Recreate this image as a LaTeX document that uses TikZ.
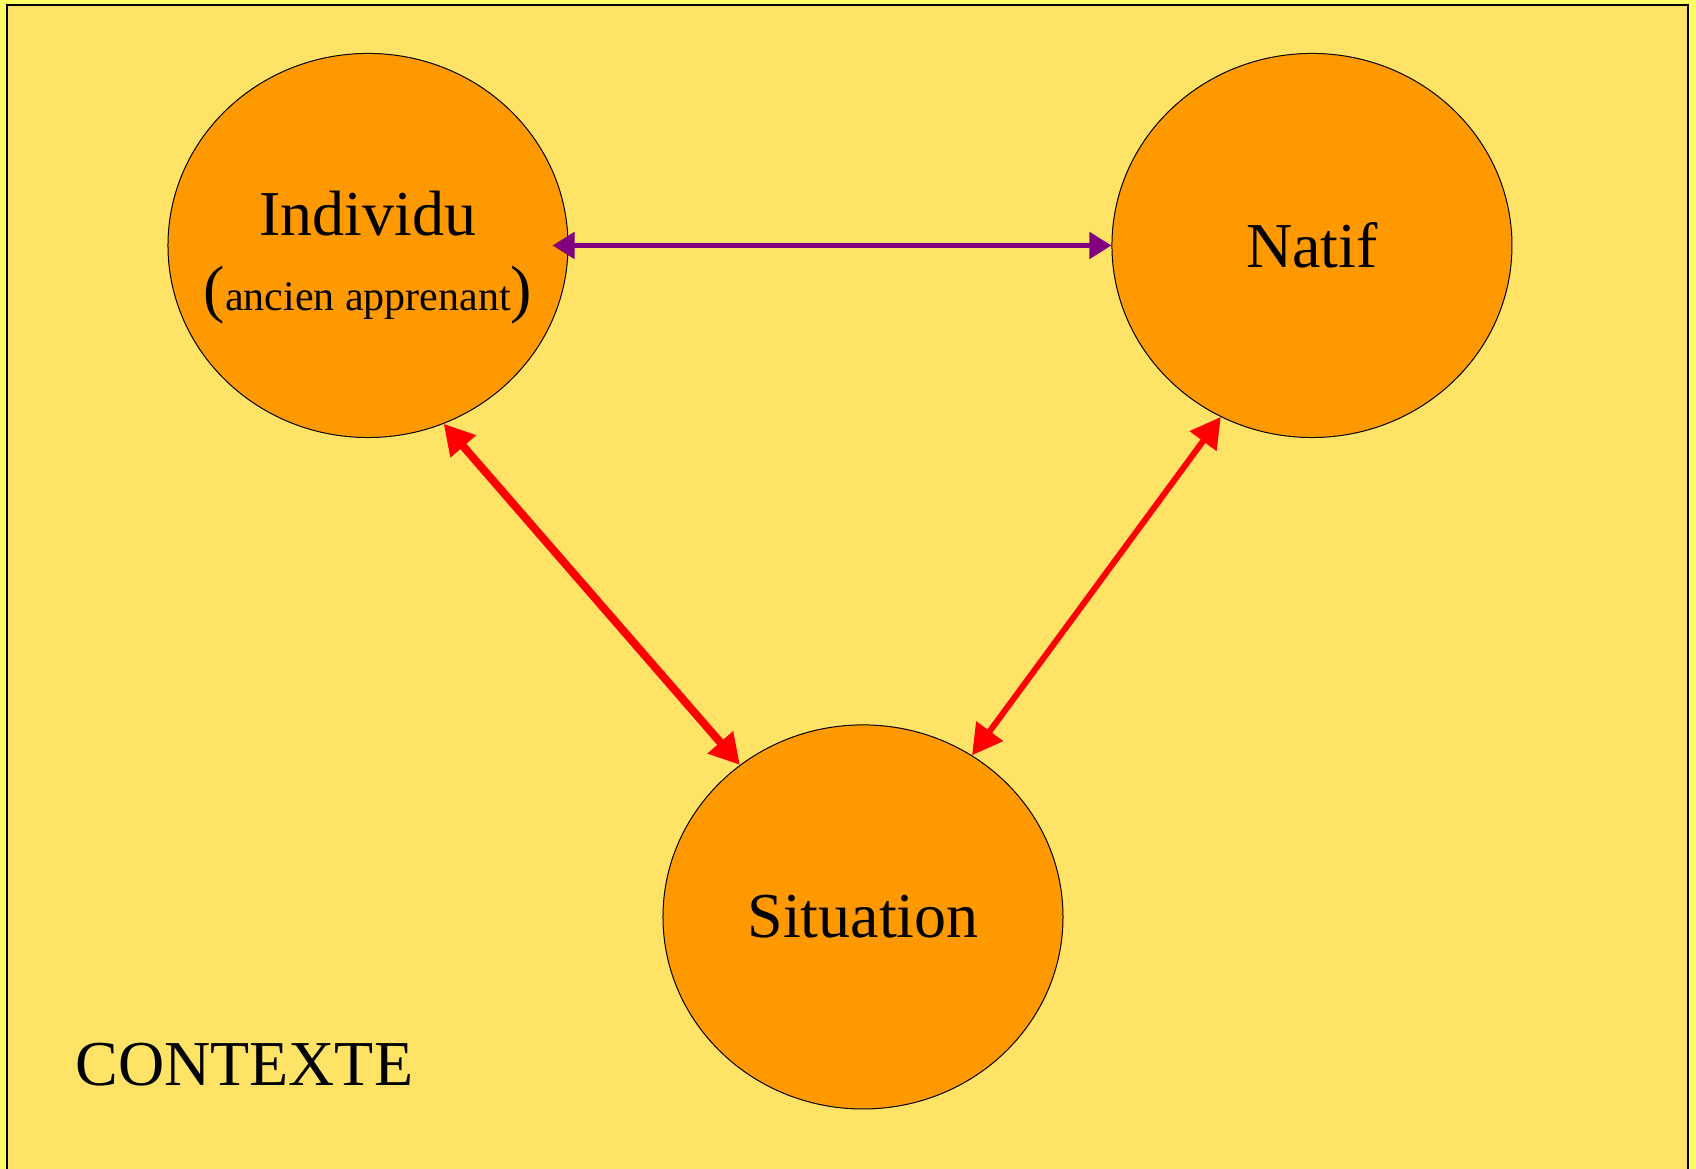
\documentclass[tikz,border=0pt]{standalone}
\usepackage{fontspec}
\setmainfont{Liberation Serif}
\usepackage{xcolor}
\usetikzlibrary{arrows.meta, shapes.geometric}

\definecolor{fond}{HTML}{FFFF66}
\definecolor{contexte}{HTML}{FFE366}
\definecolor{pole}{HTML}{FF9900}
\definecolor{lien}{HTML}{800080}

\begin{document}
\begin{tikzpicture}[
    polenode/.style={draw, ellipse, fill=pole, line width=0.5pt, minimum width=7.03cm, minimum height=6.75cm, align=center, font=\fontsize{32}{37.5}\selectfont},
    poletext/.style={align=center, inner sep=0pt, font=\fontsize{32}{37.5}\selectfont},
    lienrouge/.style={{Triangle[length=15pt,width=16pt]}-{Triangle[length=15pt,width=16pt]}, draw=red},
    lienviolet/.style={{Triangle[length=11pt,width=13pt]}-{Triangle[length=11pt,width=13pt]}, draw=lien, line width=2.5pt}]
    % Fond et cadre
    \useasboundingbox (0,0) rectangle (29.805,-20.543);
    \fill[fond] (0,0) rectangle (29.805,-20.543);
    \draw[fill=contexte, line width=0.75pt] (0.123,-0.088) rectangle (29.663,-20.8);

    % Poles
    \node[polenode] (ind) at (6.467,-4.314) {};
    \node[poletext] (indtxt) at ([yshift=-6pt]ind.center) {Individu\\({\fontsize{21}{25}\selectfont ancien apprenant})};
    \node[polenode] (nat) at (23.056,-4.314) {Natif};
    \node[polenode] (sit) at (15.166,-16.114) {Situation};
    \node[anchor=base west, inner sep=0pt, font=\fontsize{32}{37.5}\selectfont] (ctx) at (1.318,-19.084) {CONTEXTE};

    % Fleches
    \draw[lienviolet] ([xshift=-8pt]ind.east) -- (nat.west);
    \draw[lienrouge, line width=4pt] (ind.-67.5) -- (sit.129.8);
    \draw[lienrouge, line width=3pt] (nat.-118.6) -- (sit.56.5);
\end{tikzpicture}
\end{document}
